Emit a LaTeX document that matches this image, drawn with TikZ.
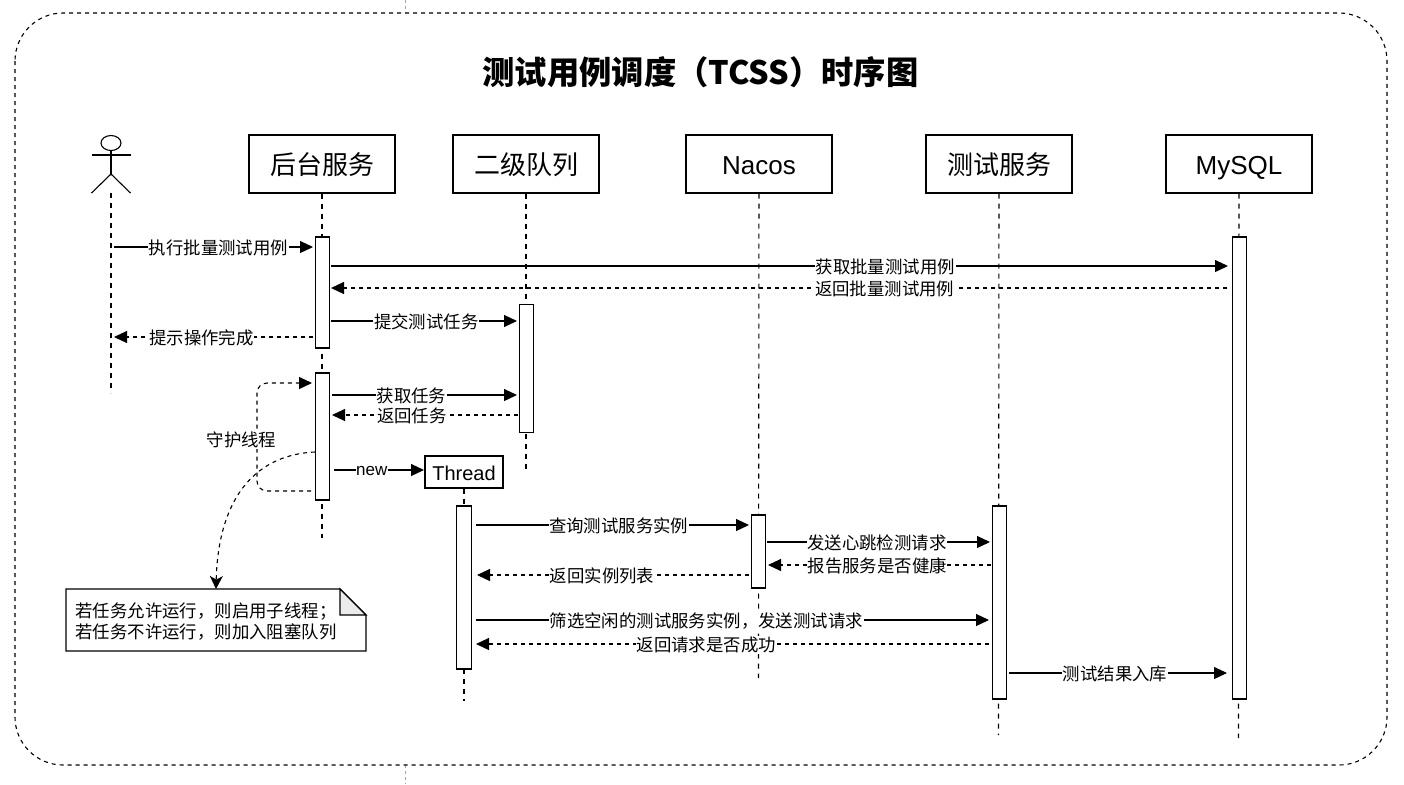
\documentclass[tikz,border=0pt]{standalone}
\usepackage{fontspec}
\setmainfont{Liberation Sans}
\newfontfamily\cjk{Noto Sans CJK SC}
\usetikzlibrary{arrows.meta}
\usetikzlibrary{shapes.geometric}
\tikzset{
  lane/.style={draw,line width=0.6pt,fill=white,minimum width=73pt,minimum height=29pt,inner sep=0pt,text height=11.5pt,text depth=0.7pt,font=\cjk\fontsize{13}{15}\selectfont},
  lanelatin/.style={lane,text height=11pt,text depth=0.6pt,font=\fontsize{13}{15}\selectfont},
  lifeline/.style={line width=0.55pt,dash pattern=on 2.5pt off 2.5pt},
  active/.style={draw,line width=0.6pt,fill=white,minimum width=7.2pt,inner sep=0pt},
  callmsg/.style={line width=0.55pt,-{Triangle[length=6.5pt,width=6pt]}},
  backmsg/.style={callmsg,dash pattern=on 2pt off 2pt},
  lbl/.style={fill=white,inner sep=0.3pt,font=\cjk\fontsize{8.7}{10}\selectfont},
}
\begin{document}
\begin{tikzpicture}[x=0.5pt,y=0.5pt,yscale=-1,xscale=1]
\useasboundingbox (0,0) rectangle (1404,784);

%Guides outside the frame
\coordinate (guideA) at (405,0);
\coordinate (guideB) at (405,13);
\coordinate (guideC) at (405,765);
\coordinate (guideD) at (405,784);
\draw [color=black!35,line width=0.4pt,dash pattern=on 1.5pt off 1.5pt] (guideA) -- (guideB);
\draw [color=black!35,line width=0.4pt,dash pattern=on 1.5pt off 1.5pt] (guideC) -- (guideD);

%Frame
\draw [line width=0.55pt,dash pattern=on 2pt off 2pt,rounded corners=24pt] (15,13) rectangle (1387,765);

% Title
\node (title) at (700.5,72) {\cjk\bfseries\fontsize{16.15}{19}\selectfont 测试用例调度（TCSS）时序图};

%Actor
\node (actorHead) [ellipse,draw,line width=0.55pt,minimum width=10pt,minimum height=7.5pt,inner sep=0pt] at (111,143) {};
\coordinate (actorArmL) at (91.5,155);
\coordinate (actorArmR) at (130.5,155);
\coordinate (actorHip) at (111,174);
\coordinate (actorFootL) at (91.5,193);
\coordinate (actorFootR) at (130.5,193);
\coordinate (actorFoot) at (111,193);
\draw [line width=0.55pt] (actorHead) -- (actorHip);
\draw [line width=0.55pt] (actorArmL) -- (actorArmR);
\draw [line width=0.55pt] (actorFootL) -- (actorHip) -- (actorFootR);

%Lanes
\node (backend) [lane] at (322,164) {后台服务};
\node (queue) [lane] at (526,164) {二级队列};
\node (nacos) [lanelatin] at (759,164) {Nacos};
\node (tester) [lane] at (999,164) {测试服务};
\node (mysql) [lanelatin] at (1239,164) {MySQL};
\node (thread) [draw,line width=0.6pt,fill=white,minimum width=39pt,minimum height=16pt,inner sep=0pt,text height=8.5pt,text depth=0.3pt,font=\fontsize{10}{12}\selectfont] at (464,472) {Thread};

%Lifelines
\coordinate (actorEnd) at (111,393);
\coordinate (backendEnd) at (322,538);
\coordinate (queueEnd) at (526,472);
\coordinate (threadEnd) at (464,701);
\coordinate (nacosEnd) at (758.5,678);
\coordinate (testerEnd) at (998.5,735);
\coordinate (mysqlEnd) at (1238.5,738);
\draw [lifeline] (actorFoot) -- (actorEnd);
\draw [lifeline] (backend) -- (backendEnd);
\draw [lifeline] (queue) -- (queueEnd);
\draw [lifeline] (thread) -- (threadEnd);
\draw [lifeline] (nacos) -- (nacosEnd);
\draw [lifeline] (tester) -- (testerEnd);
\draw [lifeline] (mysql) -- (mysqlEnd);

%Activations
\node (backendA) [active,minimum height=55.5pt] at (322.5,292.5) {};
\node (backendB) [active,minimum height=63.5pt] at (322.5,436.5) {};
\node (queueA) [active,minimum height=64pt] at (526.5,368.5) {};
\node (threadA) [active,minimum height=81.5pt] at (464,587.5) {};
\node (nacosA) [active,minimum height=36.5pt] at (758.5,551.5) {};
\node (testerA) [active,minimum height=96.5pt] at (999.5,602.5) {};
\node (mysqlA) [active,minimum height=231pt] at (1239.5,468) {};

%Messages
\coordinate (m1a) at (114,247);   \coordinate (m1b) at (313,247);
\coordinate (m2a) at (331,266);   \coordinate (m2b) at (1228,266);
\coordinate (m3a) at (1227,288);  \coordinate (m3b) at (331,288);
\coordinate (m4a) at (331,321);   \coordinate (m4b) at (517,321);
\coordinate (m5a) at (313,337);   \coordinate (m5b) at (114,337);
\coordinate (m6a) at (332,395);   \coordinate (m6b) at (517,395);
\coordinate (m7a) at (518,415);   \coordinate (m7b) at (332,415);
\coordinate (m8a) at (334,470);   \coordinate (m8b) at (424,470);
\coordinate (m9a) at (476,525);   \coordinate (m9b) at (749,525);
\coordinate (m10a) at (767,542);  \coordinate (m10b) at (990,542);
\coordinate (m11a) at (991,565);  \coordinate (m11b) at (768,565);
\coordinate (m12a) at (749,575);  \coordinate (m12b) at (477,575);
\coordinate (m13a) at (476,620);  \coordinate (m13b) at (989,620);
\coordinate (m14a) at (989,644);  \coordinate (m14b) at (476,644);
\coordinate (m15a) at (1009,673); \coordinate (m15b) at (1227,673);
\draw [callmsg] (m1a) -- node (l1) [lbl,pos=0.525,yshift=-0.5pt] {执行批量测试用例} (m1b);
\draw [callmsg] (m2a) -- node (l2) [lbl,pos=0.618,yshift=-0.5pt] {获取批量测试用例} (m2b);
\draw [backmsg] (m3a) -- node (l3) [lbl,pos=0.382,yshift=-0.5pt] {返回批量测试用例} (m3b);
\draw [callmsg] (m4a) -- node (l4) [lbl,pos=0.512,yshift=-0.5pt] {提交测试任务} (m4b);
\draw [backmsg] (m5a) -- node (l5) [lbl,pos=0.56,yshift=-0.5pt] {提示操作完成} (m5b);
\draw [callmsg] (m6a) -- node (l6) [lbl,pos=0.43,yshift=-0.5pt] {获取任务} (m6b);
\draw [backmsg] (m7a) -- node (l7) [lbl,pos=0.57,yshift=-0.5pt] {返回任务} (m7b);
\draw [callmsg] (m8a) -- node (l8) [lbl,pos=0.42,yshift=-0.7pt,font=\fontsize{8.5}{10}\selectfont] {new} (m8b);
\draw [callmsg] (m9a) -- node (l9) [lbl,pos=0.523,yshift=-0.5pt] {查询测试服务实例} (m9b);
\draw [callmsg] (m10a) -- node (l10) [lbl,pos=0.493,yshift=-0.5pt] {发送心跳检测请求} (m10b);
\draw [backmsg] (m11a) -- node (l11) [lbl,pos=0.51,yshift=-0.5pt] {报告服务是否健康} (m11b);
\draw [backmsg] (m12a) -- node (l12) [lbl,pos=0.54,yshift=-0.5pt] {返回实例列表} (m12b);
\draw [callmsg] (m13a) -- node (l13) [lbl,pos=0.449,yshift=-0.5pt] {筛选空闲的测试服务实例，发送测试请求} (m13b);
\draw [backmsg] (m14a) -- node (l14) [lbl,pos=0.551,yshift=-0.5pt] {返回请求是否成功} (m14b);
\draw [callmsg] (m15a) -- node (l15) [lbl,pos=0.487,yshift=-0.5pt] {测试结果入库} (m15b);

%Self loop
\coordinate (loopa) at (311,491);
\coordinate (loopb) at (257,491);
\coordinate (loopc) at (257,383);
\coordinate (loopd) at (312,383);
\draw [backmsg,rounded corners=5pt] (loopa) -- (loopb) -- (loopc) -- (loopd);
\node (daemon) [lbl,yshift=-0.5pt] at (241.5,439) {守护线程};

%Note
\coordinate (noteA) at (66,589);
\coordinate (noteB) at (340,589);
\coordinate (noteC) at (366,615);
\coordinate (noteD) at (366,651);
\coordinate (noteE) at (66,651);
\coordinate (noteF) at (340,615);
\coordinate (noteTop) at (216,589);
\coordinate (curveStart) at (315,452);
\draw [line width=0.6pt] (noteA) -- (noteB) -- (noteC) -- (noteD) -- (noteE) -- cycle;
\draw [line width=0.6pt,fill=black!8] (noteB) -- (noteF) -- (noteC) -- cycle;
\node (noteText) [anchor=west,align=left,inner sep=0pt,font=\cjk\fontsize{8.7}{10.5}\selectfont] at (75,621.5) {若任务允许运行，则启用子线程；\\若任务不许运行，则加入阻塞队列};
\draw [line width=0.55pt,dash pattern=on 2pt off 2pt,-{Stealth[length=6.5pt,width=6.5pt,inset=1.8pt]}] (curveStart) .. controls (250,455) and (218,505) .. (noteTop);

\end{tikzpicture}
\end{document}
